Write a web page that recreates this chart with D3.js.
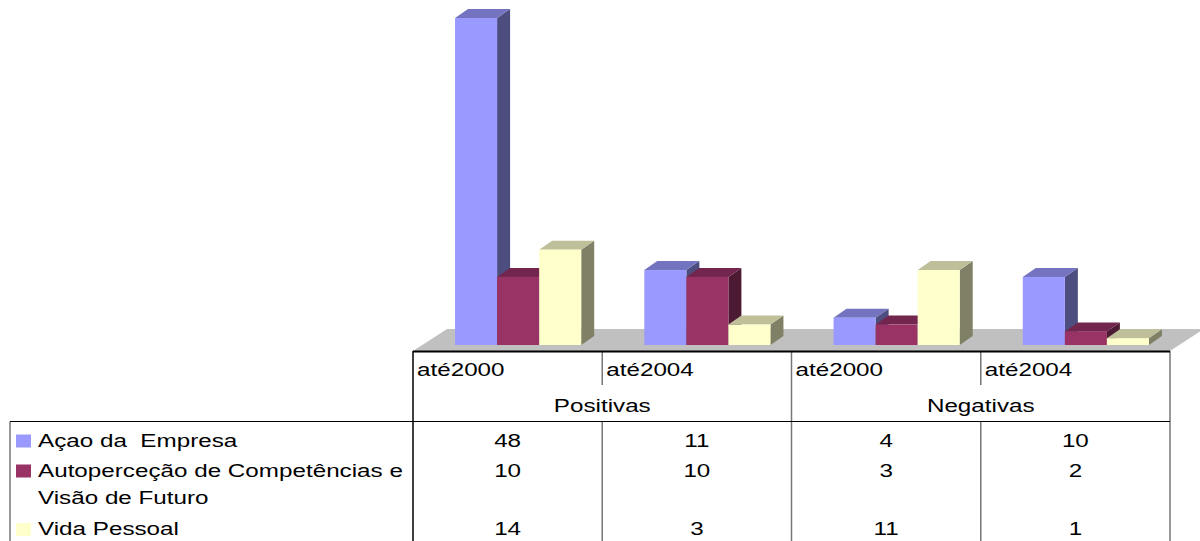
<!DOCTYPE html>
<html>
<head>
<meta charset="utf-8">
<script src="https://cdn.jsdelivr.net/npm/d3@7"></script>
<style>
	html, body { margin: 0; padding: 0; background: #fff; }
	svg { display: block; font-family: "Liberation Sans", Arial, sans-serif; }
</style>
</head>
<body>
<svg id="chart" width="1200" height="541"></svg>
<script>
// Data
var categories = ["até2000", "até2004", "até2000", "até2004"];
var groups = ["Positivas", "Negativas"];
var seriesNames = ["Açao da  Empresa", "Autoperceção de Competências e\nVisão de Futuro", "Vida Pessoal"];
var acaoEmpresa = [48, 11, 4, 10];
var autopercecao = [10, 10, 3, 2];
var vidaPessoal = [14, 3, 11, 1];
var seriesValues = [acaoEmpresa, autopercecao, vidaPessoal];
var seriesColors = ["#9999ff", "#993366", "#ffffcc"];

var svg = d3.select("#chart");

// Layout
var tableLeft = 413,
	tableRight = 1170,
	floorFront = 351,
	floorBack = 329,
	floorDx = 34,
	barDx = 10.5,
	barDy = -6,
	depthDx = 13,
	depthDy = -9,
	fontSize = 18.5,
	stretch = 1.31;   // the text in the original is drawn wide

var x = d3.scaleBand()
	.domain(d3.range(categories.length))
	.range([tableLeft, tableRight]);

var xs = d3.scaleBand()
	.domain(d3.range(seriesNames.length))
	.range([0, x.bandwidth()])
	.paddingInner(0)
	.paddingOuter(0.75);

var y = d3.scaleLinear()
	.domain([0, 48])
	.range([floorFront + barDy, 18]);

// Floor
svg.append("polygon")
	.attr("points", [
		[tableLeft, floorFront],
		[tableRight, floorFront],
		[tableRight + floorDx, floorBack],
		[tableLeft + floorDx, floorBack]
	].join(" "))
	.attr("fill", "#c0c0c0");

// Bars
function shade(c, k) {
	var r = d3.rgb(c);
	return d3.rgb(r.r * k, r.g * k, r.b * k).formatHex();
}

var barsG = svg.append("g");
categories.forEach(function (cat, ci) {
	seriesValues.forEach(function (vals, si) {
		var x0 = x(ci) + xs(si) + barDx,
			x1 = x0 + xs.bandwidth(),
			y0 = y(0),
			y1 = y(vals[ci]),
			col = seriesColors[si];

		barsG.append("polygon")
			.attr("points", [[x1, y0], [x1 + depthDx, y0 + depthDy], [x1 + depthDx, y1 + depthDy], [x1, y1]].join(" "))
			.attr("fill", shade(col, 0.5));

		barsG.append("polygon")
			.attr("points", [[x0, y1], [x1, y1], [x1 + depthDx, y1 + depthDy], [x0 + depthDx, y1 + depthDy]].join(" "))
			.attr("fill", shade(col, 0.75));

		barsG.append("rect")
			.attr("x", x0)
			.attr("y", y1)
			.attr("width", x1 - x0)
			.attr("height", y0 - y1)
			.attr("fill", col);
	});
});

// Data table
var tableG = svg.append("g");
var rowTop = 421.5,
	bottom = 541;

function line(x1, y1, x2, y2, color, w) {
	tableG.append("line")
		.attr("x1", x1).attr("y1", y1)
		.attr("x2", x2).attr("y2", y2)
		.attr("stroke", color)
		.attr("stroke-width", w);
}

function label(tx, ty, str, anchor) {
	return tableG.append("text")
		.attr("transform", "translate(" + tx + "," + ty + ") scale(" + stretch + ",1)")
		.attr("text-anchor", anchor || "start")
		.attr("font-size", fontSize)
		.attr("xml:space", "preserve")
		.style("white-space", "pre")
		.text(str);
}

// vertical lines
categories.forEach(function (cat, ci) {
	var xx = x(ci);
	if (ci == 0) {
		line(xx, floorFront, xx, bottom, "#000", 1.5);
	} else if (ci % 2 == 0) {
		line(xx, floorFront, xx, bottom, "#777", 1.5);
	} else {
		line(xx, floorFront, xx, 385, "#777", 1.5);
		line(xx, rowTop, xx, bottom, "#777", 1.5);
	}
});
line(tableRight, floorFront, tableRight, bottom, "#777", 1.5);
line(10, rowTop, 10, bottom, "#777", 1.5);
line(10, rowTop, tableRight, rowTop, "#000", 1.2);
line(tableLeft, floorFront + 0.5, tableRight, floorFront + 0.5, "#000", 2.2);

// category labels
categories.forEach(function (cat, ci) {
	label(x(ci) + 4, 376, cat);
});

// group labels
groups.forEach(function (g, gi) {
	label((x(gi * 2) + x(gi * 2 + 1) + x.bandwidth()) / 2, 411.5, g, "middle");
});

// rows
var rowBaselines = [446.5, 476.5, 535];
seriesNames.forEach(function (name, si) {
	tableG.append("rect")
		.attr("x", 16)
		.attr("y", rowBaselines[si] - 12)
		.attr("width", 15)
		.attr("height", 13)
		.attr("fill", seriesColors[si]);

	name.split("\n").forEach(function (ln, li) {
		label(38, rowBaselines[si] + li * 27, ln);
	});

	seriesValues[si].forEach(function (v, i) {
		label(x(i) + x.bandwidth() / 2, rowBaselines[si], v, "middle");
	});
});
</script>
</body>
</html>
